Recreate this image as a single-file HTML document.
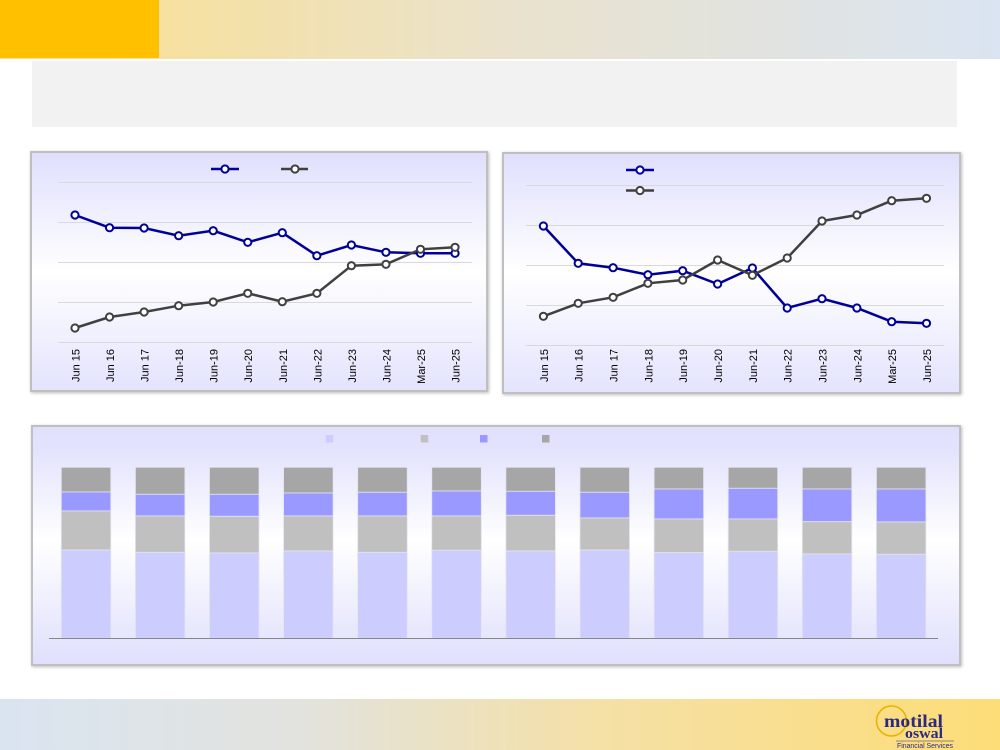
<!DOCTYPE html>
<html><head><meta charset="utf-8"><style>
html,body{margin:0;padding:0;background:#fff;}
svg{display:block;}
</style></head><body>
<svg width="1000" height="750" viewBox="0 0 1000 750" xmlns="http://www.w3.org/2000/svg" font-family="Liberation Sans, sans-serif">
<defs>
<linearGradient id="hdr" x1="0" x2="1" y1="0" y2="0"><stop offset="0" stop-color="#FCE08A"/><stop offset="0.5" stop-color="#EAE2CC"/><stop offset="1" stop-color="#DAE4F2"/></linearGradient>
<linearGradient id="ftr" x1="0" x2="1" y1="0" y2="0"><stop offset="0" stop-color="#DAE4F1"/><stop offset="0.3" stop-color="#E2E3DE"/><stop offset="0.6" stop-color="#F5E0A6"/><stop offset="1" stop-color="#FDDD78"/></linearGradient>
<linearGradient id="pan" x1="0" x2="0" y1="0" y2="1"><stop offset="0" stop-color="#DFDFFD"/><stop offset="0.5" stop-color="#FFFFFF"/><stop offset="1" stop-color="#E3E3FD"/></linearGradient>
<linearGradient id="pan2" x1="0" x2="0" y1="0" y2="1"><stop offset="0" stop-color="#E0E0FD"/><stop offset="0.1" stop-color="#E3E3FD"/><stop offset="0.48" stop-color="#FFFFFF"/><stop offset="0.9" stop-color="#E5E5FD"/><stop offset="1" stop-color="#E0E0FD"/></linearGradient>
<filter id="sh" x="-5%" y="-5%" width="110%" height="110%"><feGaussianBlur stdDeviation="1.5"/></filter>
</defs>

<!-- header -->
<rect x="0" y="0" width="1000" height="59" fill="url(#hdr)"/>
<rect x="0" y="0" width="159" height="58" fill="#FFC000"/>
<!-- gray box -->
<rect x="32" y="61" width="925" height="66" fill="#F2F2F2"/>

<!-- footer -->
<rect x="0" y="699" width="1000" height="51" fill="url(#ftr)"/>

<!-- panels shadows -->
<rect x="31" y="152" width="458" height="241" fill="#bbb" filter="url(#sh)"/>
<rect x="503" y="153" width="459" height="242" fill="#bbb" filter="url(#sh)"/>
<rect x="32" y="426" width="930" height="241" fill="#bbb" filter="url(#sh)"/>

<!-- left panel -->
<rect x="31" y="152" width="456" height="239" fill="url(#pan)" stroke="#BFBFBF" stroke-width="2"/>
<g stroke="#D9D9D9" stroke-width="1">
<line x1="58" x2="472" y1="182.5" y2="182.5"/>
<line x1="58" x2="472" y1="222.5" y2="222.5"/>
<line x1="58" x2="472" y1="262.5" y2="262.5"/>
<line x1="58" x2="472" y1="302.5" y2="302.5"/>
<line x1="58" x2="472" y1="342.5" y2="342.5"/>
</g>
<polyline fill="none" stroke="#000099" stroke-width="2.5" points="75,215 109.55,227.7 144.1,228 178.65,235.7 213.2,230.7 247.75,242.3 282.3,232.7 316.85,255.7 351.4,245 385.95,252.3 420.5,253.3 455.05,253.3"/>
<polyline fill="none" stroke="#404040" stroke-width="2.5" points="75,328 109.55,317 144.1,312 178.65,305.7 213.2,302 247.75,293.3 282.3,301.7 316.85,293.3 351.4,265.7 385.95,264.3 420.5,249.3 455.05,247.3"/>
<g fill="#fff" stroke="#000099" stroke-width="2">
<circle cx="75" cy="215" r="3.6"/><circle cx="109.55" cy="227.7" r="3.6"/><circle cx="144.1" cy="228" r="3.6"/><circle cx="178.65" cy="235.7" r="3.6"/><circle cx="213.2" cy="230.7" r="3.6"/><circle cx="247.75" cy="242.3" r="3.6"/><circle cx="282.3" cy="232.7" r="3.6"/><circle cx="316.85" cy="255.7" r="3.6"/><circle cx="351.4" cy="245" r="3.6"/><circle cx="385.95" cy="252.3" r="3.6"/><circle cx="420.5" cy="253.3" r="3.6"/><circle cx="455.05" cy="253.3" r="3.6"/>
</g>
<g fill="#fff" stroke="#404040" stroke-width="2">
<circle cx="75" cy="328" r="3.6"/><circle cx="109.55" cy="317" r="3.6"/><circle cx="144.1" cy="312" r="3.6"/><circle cx="178.65" cy="305.7" r="3.6"/><circle cx="213.2" cy="302" r="3.6"/><circle cx="247.75" cy="293.3" r="3.6"/><circle cx="282.3" cy="301.7" r="3.6"/><circle cx="316.85" cy="293.3" r="3.6"/><circle cx="351.4" cy="265.7" r="3.6"/><circle cx="385.95" cy="264.3" r="3.6"/><circle cx="420.5" cy="249.3" r="3.6"/><circle cx="455.05" cy="247.3" r="3.6"/>
</g>
<!-- left legend -->
<line x1="211" x2="239" y1="169" y2="169" stroke="#000099" stroke-width="2.5"/>
<circle cx="225" cy="169" r="3.6" fill="#fff" stroke="#000099" stroke-width="2"/>
<line x1="281" x2="308" y1="169" y2="169" stroke="#404040" stroke-width="2.5"/>
<circle cx="295" cy="169" r="3.6" fill="#fff" stroke="#404040" stroke-width="2"/>
<g font-size="11" fill="#000" text-anchor="end">
<text transform="translate(79.5,349) rotate(-90)">Jun 15</text>
<text transform="translate(114,349) rotate(-90)">Jun 16</text>
<text transform="translate(148.6,349) rotate(-90)">Jun 17</text>
<text transform="translate(183.1,349) rotate(-90)">Jun-18</text>
<text transform="translate(217.7,349) rotate(-90)">Jun-19</text>
<text transform="translate(252.2,349) rotate(-90)">Jun-20</text>
<text transform="translate(286.8,349) rotate(-90)">Jun-21</text>
<text transform="translate(321.3,349) rotate(-90)">Jun-22</text>
<text transform="translate(355.9,349) rotate(-90)">Jun-23</text>
<text transform="translate(390.4,349) rotate(-90)">Jun-24</text>
<text transform="translate(425,349) rotate(-90)">Mar-25</text>
<text transform="translate(459.5,349) rotate(-90)">Jun-25</text>
</g>

<!-- right panel -->
<rect x="503" y="153" width="457" height="240" fill="url(#pan)" stroke="#BFBFBF" stroke-width="2"/>
<g stroke="#D9D9D9" stroke-width="1">
<line x1="526" x2="944" y1="185.5" y2="185.5"/>
<line x1="526" x2="944" y1="225.5" y2="225.5"/>
<line x1="526" x2="944" y1="265.5" y2="265.5"/>
<line x1="526" x2="944" y1="305.5" y2="305.5"/>
<line x1="526" x2="944" y1="345.5" y2="345.5"/>
</g>
<polyline fill="none" stroke="#000099" stroke-width="2.5" points="543.4,226 578.2,263.3 613.1,267.7 647.9,274.7 682.7,270.7 717.6,284 752.4,268 787.2,308 822,298.7 856.9,308 891.7,321.7 926.5,323.3"/>
<polyline fill="none" stroke="#404040" stroke-width="2.5" points="543.4,316.3 578.2,303.3 613.1,297.3 647.9,283.3 682.7,280 717.6,260 752.4,275.3 787.2,258 822,221 856.9,215 891.7,200.7 926.5,198.3"/>
<g fill="#fff" stroke="#000099" stroke-width="2">
<circle cx="543.4" cy="226" r="3.6"/><circle cx="578.2" cy="263.3" r="3.6"/><circle cx="613.1" cy="267.7" r="3.6"/><circle cx="647.9" cy="274.7" r="3.6"/><circle cx="682.7" cy="270.7" r="3.6"/><circle cx="717.6" cy="284" r="3.6"/><circle cx="752.4" cy="268" r="3.6"/><circle cx="787.2" cy="308" r="3.6"/><circle cx="822" cy="298.7" r="3.6"/><circle cx="856.9" cy="308" r="3.6"/><circle cx="891.7" cy="321.7" r="3.6"/><circle cx="926.5" cy="323.3" r="3.6"/>
</g>
<g fill="#fff" stroke="#404040" stroke-width="2">
<circle cx="543.4" cy="316.3" r="3.6"/><circle cx="578.2" cy="303.3" r="3.6"/><circle cx="613.1" cy="297.3" r="3.6"/><circle cx="647.9" cy="283.3" r="3.6"/><circle cx="682.7" cy="280" r="3.6"/><circle cx="717.6" cy="260" r="3.6"/><circle cx="752.4" cy="275.3" r="3.6"/><circle cx="787.2" cy="258" r="3.6"/><circle cx="822" cy="221" r="3.6"/><circle cx="856.9" cy="215" r="3.6"/><circle cx="891.7" cy="200.7" r="3.6"/><circle cx="926.5" cy="198.3" r="3.6"/>
</g>
<!-- right legend -->
<line x1="626" x2="654" y1="170" y2="170" stroke="#000099" stroke-width="2.5"/>
<circle cx="640" cy="170" r="3.6" fill="#fff" stroke="#000099" stroke-width="2"/>
<line x1="626" x2="654" y1="190.5" y2="190.5" stroke="#404040" stroke-width="2.5"/>
<circle cx="640" cy="190.5" r="3.6" fill="#fff" stroke="#404040" stroke-width="2"/>
<g font-size="11" fill="#000" text-anchor="end">
<text transform="translate(547.9,349) rotate(-90)">Jun 15</text>
<text transform="translate(582.7,349) rotate(-90)">Jun 16</text>
<text transform="translate(617.6,349) rotate(-90)">Jun 17</text>
<text transform="translate(652.4,349) rotate(-90)">Jun-18</text>
<text transform="translate(687.2,349) rotate(-90)">Jun-19</text>
<text transform="translate(722.1,349) rotate(-90)">Jun-20</text>
<text transform="translate(756.9,349) rotate(-90)">Jun-21</text>
<text transform="translate(791.7,349) rotate(-90)">Jun-22</text>
<text transform="translate(826.5,349) rotate(-90)">Jun-23</text>
<text transform="translate(861.4,349) rotate(-90)">Jun-24</text>
<text transform="translate(896.2,349) rotate(-90)">Mar-25</text>
<text transform="translate(931,349) rotate(-90)">Jun-25</text>
</g>

<!-- bottom panel -->
<rect x="32" y="426" width="928" height="239" fill="url(#pan2)" stroke="#BFBFBF" stroke-width="2"/>
<rect x="325.7" y="435" width="7.5" height="7.5" fill="#CCCCFF"/>
<rect x="420.7" y="435" width="7.5" height="7.5" fill="#C0C0C0"/>
<rect x="480" y="435" width="7.5" height="7.5" fill="#9999FF"/>
<rect x="542" y="435" width="7.5" height="7.5" fill="#A6A6A6"/>
<g stroke="#E4E4EE" stroke-width="0.8">
<!-- bar 1 -->
<rect x="61.3" y="467.3" width="49.5" height="24.7" fill="#A6A6A6"/><rect x="61.3" y="492" width="49.5" height="19" fill="#9999FF"/><rect x="61.3" y="511" width="49.5" height="39" fill="#C0C0C0"/><rect x="61.3" y="550" width="49.5" height="88.3" fill="#CCCCFF"/>
<!-- bar 2 -->
<rect x="135.4" y="467.3" width="49.5" height="27" fill="#A6A6A6"/><rect x="135.4" y="494.3" width="49.5" height="21.7" fill="#9999FF"/><rect x="135.4" y="516" width="49.5" height="36.3" fill="#C0C0C0"/><rect x="135.4" y="552.3" width="49.5" height="86" fill="#CCCCFF"/>
<!-- bar 3 -->
<rect x="209.5" y="467.3" width="49.5" height="27" fill="#A6A6A6"/><rect x="209.5" y="494.3" width="49.5" height="22" fill="#9999FF"/><rect x="209.5" y="516.3" width="49.5" height="36.7" fill="#C0C0C0"/><rect x="209.5" y="553" width="49.5" height="85.3" fill="#CCCCFF"/>
<!-- bar 4 -->
<rect x="283.6" y="467.3" width="49.5" height="25.7" fill="#A6A6A6"/><rect x="283.6" y="493" width="49.5" height="23" fill="#9999FF"/><rect x="283.6" y="516" width="49.5" height="35" fill="#C0C0C0"/><rect x="283.6" y="551" width="49.5" height="87.3" fill="#CCCCFF"/>
<!-- bar 5 -->
<rect x="357.7" y="467.3" width="49.5" height="25" fill="#A6A6A6"/><rect x="357.7" y="492.3" width="49.5" height="23.7" fill="#9999FF"/><rect x="357.7" y="516" width="49.5" height="36.3" fill="#C0C0C0"/><rect x="357.7" y="552.3" width="49.5" height="86" fill="#CCCCFF"/>
<!-- bar 6 -->
<rect x="431.8" y="467.3" width="49.5" height="23.7" fill="#A6A6A6"/><rect x="431.8" y="491" width="49.5" height="25" fill="#9999FF"/><rect x="431.8" y="516" width="49.5" height="34.3" fill="#C0C0C0"/><rect x="431.8" y="550.3" width="49.5" height="88" fill="#CCCCFF"/>
<!-- bar 7 -->
<rect x="505.9" y="467.3" width="49.5" height="24" fill="#A6A6A6"/><rect x="505.9" y="491.3" width="49.5" height="24" fill="#9999FF"/><rect x="505.9" y="515.3" width="49.5" height="35.7" fill="#C0C0C0"/><rect x="505.9" y="551" width="49.5" height="87.3" fill="#CCCCFF"/>
<!-- bar 8 -->
<rect x="580" y="467.3" width="49.5" height="25" fill="#A6A6A6"/><rect x="580" y="492.3" width="49.5" height="25.7" fill="#9999FF"/><rect x="580" y="518" width="49.5" height="32" fill="#C0C0C0"/><rect x="580" y="550" width="49.5" height="88.3" fill="#CCCCFF"/>
<!-- bar 9 -->
<rect x="654.1" y="467.3" width="49.5" height="21.7" fill="#A6A6A6"/><rect x="654.1" y="489" width="49.5" height="30" fill="#9999FF"/><rect x="654.1" y="519" width="49.5" height="33.7" fill="#C0C0C0"/><rect x="654.1" y="552.7" width="49.5" height="85.6" fill="#CCCCFF"/>
<!-- bar 10 -->
<rect x="728.2" y="467.3" width="49.5" height="21" fill="#A6A6A6"/><rect x="728.2" y="488.3" width="49.5" height="30.7" fill="#9999FF"/><rect x="728.2" y="519" width="49.5" height="32.3" fill="#C0C0C0"/><rect x="728.2" y="551.3" width="49.5" height="87" fill="#CCCCFF"/>
<!-- bar 11 -->
<rect x="802.3" y="467.3" width="49.5" height="21.7" fill="#A6A6A6"/><rect x="802.3" y="489" width="49.5" height="32.7" fill="#9999FF"/><rect x="802.3" y="521.7" width="49.5" height="32.3" fill="#C0C0C0"/><rect x="802.3" y="554" width="49.5" height="84.3" fill="#CCCCFF"/>
<!-- bar 12 -->
<rect x="876.4" y="467.3" width="49.5" height="21.7" fill="#A6A6A6"/><rect x="876.4" y="489" width="49.5" height="33" fill="#9999FF"/><rect x="876.4" y="522" width="49.5" height="32.3" fill="#C0C0C0"/><rect x="876.4" y="554.3" width="49.5" height="84" fill="#CCCCFF"/>
</g>
<line x1="49" x2="938" y1="638.5" y2="638.5" stroke="#868686" stroke-width="1"/>

<!-- logo -->
<circle cx="891.5" cy="721" r="15" fill="none" stroke="#E8B400" stroke-width="1.6"/>
<text x="884" y="727" font-family="Liberation Serif, serif" font-weight="bold" font-size="18" fill="#2B2A7E" textLength="59" lengthAdjust="spacingAndGlyphs">motilal</text>
<text x="905" y="738" font-family="Liberation Serif, serif" font-weight="bold" font-size="15" fill="#2B2A7E" textLength="38" lengthAdjust="spacingAndGlyphs">oswal</text>
<line x1="896" x2="954" y1="741" y2="741" stroke="#2B2A7E" stroke-width="0.6"/>
<text x="897" y="748" font-size="7" fill="#2B2A7E" textLength="56" lengthAdjust="spacingAndGlyphs">Financial Services</text>
</svg>
</body></html>
